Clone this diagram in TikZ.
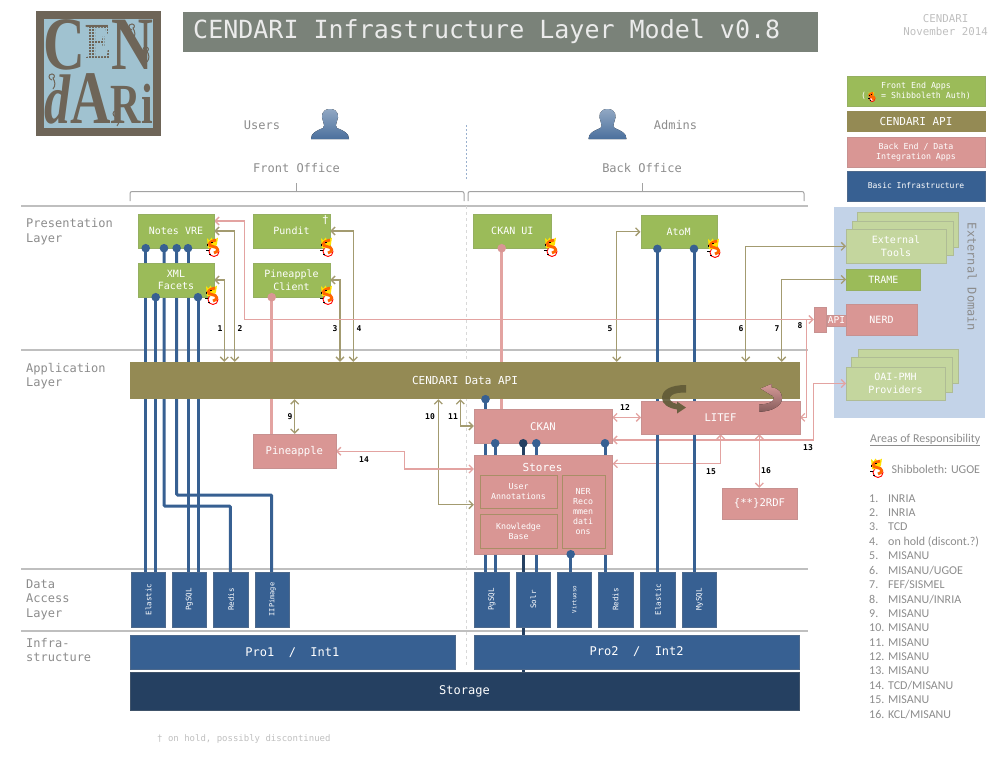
\documentclass[tikz,border=0pt]{standalone}
\usepackage{fontspec}
\usepackage{graphicx}
\setmainfont{DejaVu Sans Mono}
\newfontfamily\notefont{Carlito}
\newfontfamily\logofont{Liberation Serif}
\usetikzlibrary{arrows.meta}
\pgfdeclarelayer{background}
\pgfsetlayers{background,main}
\definecolor{frontgreen}{HTML}{9BBB59}
\definecolor{lightgreen}{HTML}{C4D69E}
\definecolor{apiolive}{HTML}{948A54}
\definecolor{lineolive}{HTML}{A39B70}
\definecolor{backpink}{HTML}{D99694}
\definecolor{linepink}{HTML}{E3A3A1}
\definecolor{infrablue}{HTML}{376092}
\definecolor{darkblue}{HTML}{254061}
\definecolor{titlegrey}{HTML}{7A8279}
\definecolor{textgrey}{HTML}{8C8C8C}
\definecolor{sepgrey}{HTML}{BFBFBF}
\definecolor{domainblue}{HTML}{C3D3E8}
\definecolor{logobrown}{HTML}{6E6558}
\definecolor{logoblue}{HTML}{A0C2D0}
\newcommand{\logosize}[1]{\fontsize{#1}{#1}\selectfont}
\tikzset{
  flat/.style={inner sep=0pt, text=white, align=center, font=\fontsize{10.6}{13}\selectfont},
  greenbox/.style={flat, fill=frontgreen, draw=frontgreen!80!gray, font=\fontsize{10}{12.5}\selectfont},
  pinkbox/.style={flat, fill=backpink, draw=backpink!80!gray},
  innerbox/.style={flat, draw=apiolive!70!backpink, font=\fontsize{8.3}{10}\selectfont},
  bluebox/.style={flat, fill=infrablue, draw=infrablue!70!gray, font=\fontsize{12}{14}\selectfont},
  dbbox/.style={bluebox, minimum width=34.5, minimum height=55},
  dblabel/.style={rotate=90, text=white, inner sep=0pt, font=\fontsize{7.5}{9}\selectfont},
  extbox/.style={flat, fill=lightgreen, draw=lightgreen!70!gray, font=\fontsize{10}{12.5}\selectfont},
  legendbox/.style={minimum width=137.5, font=\fontsize{8.3}{10}\selectfont},
  layerlabel/.style={inner sep=0pt, anchor=north west, align=left, text=textgrey, font=\fontsize{12}{14.4}\selectfont},
  greylabel/.style={inner sep=0pt, text=textgrey, font=\fontsize{12}{14}\selectfont},
  numlabel/.style={inner sep=0pt, font=\fontsize{8}{10}\selectfont\bfseries},
  notelabel/.style={inner sep=0pt, anchor=west, text=textgrey, font=\notefont\fontsize{12}{14}\selectfont},
  logorow/.style={inner sep=0pt, text=logobrown, font=\logofont\bfseries},
  logocurl/.style={logobrown, line width=1},
  sepline/.style={sepgrey, line width=2},
  braceline/.style={sepgrey!85!black, line width=1},
  bluewire/.style={infrablue, line width=3},
  darkwire/.style={darkblue, line width=3},
  pinkwire/.style={linepink, line width=3.5},
  olivearrow/.style={lineolive, line width=1.3, >={Straight Barb[length=4pt,width=8pt]}},
  pinkarrow/.style={linepink, line width=1.3, >={Straight Barb[length=4pt,width=8pt]}},
  person/.pic={
    \fill [top color=infrablue!55!white, bottom color=infrablue!90!white]
      (-19,30) .. controls (-19,24) and (-14,22) .. (-7,19)
      .. controls (-5,18) and (-6,15) .. (-7,12)
      .. controls (-9,8) and (-9,0) .. (0,0)
      .. controls (9,0) and (9,8) .. (7,12)
      .. controls (6,15) and (5,18) .. (7,19)
      .. controls (14,22) and (19,24) .. (19,30) -- cycle;
  },
  shib/.pic={
    \draw [red, fill=white, line width=0.9] (1,4.5) circle (5);
    \fill [yellow!85!orange] (-6,-9) -- (-3.5,-6.5) -- (-1.5,-9.5) -- (0.5,-6.5) -- (5,-9.5)
      -- (4,-3) -- (2,1) -- (-5,1) -- cycle;
    \draw [orange!80!red, line width=2.8] (3,-7) .. controls (-6,-5) and (-5,-1) .. (0,-0.5)
      .. controls (6,0) and (6,5) .. (1,6);
    \fill [black] (-7,3) rectangle (-4,4);
    \fill [black] (-2,-5) rectangle (-0.5,-4);
    \fill [black] (-4,7) rectangle (-2,8);
    \fill [black] (-6,-3) rectangle (-5,-1);
  },
  curl/.pic={
    \draw [logocurl] (0,0) .. controls (-4,-1) and (-4,-6) .. (0,-6)
      .. controls (3,-6) and (3,-2) .. (1,-2) .. controls (3,2) and (4,5) .. (1,9);
  },
}
\begin{document}
\begin{tikzpicture}[x=1pt, y=-1pt]
  \useasboundingbox (0,0) rectangle (1008,756);

  % Columns of the wires
  \coordinate (wirea) at (145.7,0);
  \coordinate (wireb) at (155.7,0);
  \coordinate (wirec) at (164,0);
  \coordinate (wired) at (176.7,0);
  \coordinate (wiree) at (188,0);
  \coordinate (wiref) at (198,0);
  \coordinate (wireg) at (230.3,506);
  \coordinate (wireh) at (271.7,495);
  \coordinate (wirei) at (485.5,0);
  \coordinate (wirej) at (495.2,0);
  \coordinate (wirek) at (523.2,0);
  \coordinate (wirel) at (536.3,0);
  \coordinate (wirem) at (570.7,0);
  \coordinate (wiren) at (605,0);
  \coordinate (wireo) at (657.4,0);
  \coordinate (wirep) at (694,0);
  \coordinate (wireq) at (501.7,0);

  % Columns of the arrows
  \coordinate (arrowa) at (224.3,0);
  \coordinate (arrowb) at (234.7,0);
  \coordinate (arrowc) at (340,0);
  \coordinate (arrowd) at (353.3,0);
  \coordinate (arrowe) at (616.7,0);
  \coordinate (arrowf) at (745.7,0);
  \coordinate (arrowg) at (781.7,0);
  \coordinate (arrowh) at (294.7,0);
  \coordinate (arrowi) at (438.3,504.7);
  \coordinate (arrowj) at (460.3,426);
  \coordinate (arrowk) at (404.3,469);
  \coordinate (arrowl) at (720.7,463.7);
  \coordinate (arrowm) at (759.3,0);
  \coordinate (pinka) at (244.7,221);
  \coordinate (pinkb) at (806.7,0);
  \coordinate (pinkc) at (813.5,440);

  % Drawing the logo
  \fill [logobrown] (36,11) rectangle (161,136);
  \fill [logoblue] (44,19) rectangle (153,128);
  \pic at (132,30) {curl};
  \pic at (146,53) {curl};
  \pic at (52,80) {curl};
  \pic at (116,117) {curl};
  \node [logorow] (logotop) at (98.5,45)
    {\scalebox{1}[1.3]{\logosize{58}C\raisebox{8pt}{\logosize{40}E}\logosize{58}N}};
  \node [logorow] (logobottom) at (98.5,99)
    {\scalebox{1}[1.35]{\logosize{52}\itshape d\upshape\logosize{56}A\logosize{42}R\logosize{42}i}};
  \foreach \gridx in {85,88,...,109}
    \draw [logoblue, line width=0.5] (\gridx,27) -- (\gridx,60);
  \foreach \gridy in {28,31,...,60}
    \draw [logoblue, line width=0.5] (84,\gridy) -- (110,\gridy);

  % Drawing the title
  \fill [titlegrey] (183,12) rectangle (818,52);
  \node [inner sep=0pt, anchor=west, text=white!92!black, font=\fontsize{25}{28}\selectfont] (title) at (193,32)
    {CENDARI Infrastructure Layer Model v0.8};
  \node [inner sep=0pt, align=center, text=sepgrey, font=\fontsize{10.8}{13}\selectfont] (stamp) at (945.5,25)
    {CENDARI\\November 2014};

  % Drawing users and admins
  \node [greylabel] (users) at (262,125) {Users};
  \node [greylabel] (admins) at (675.5,125) {Admins};
  \pic at (330,109) {person};
  \pic at (607.5,109) {person};
  \node [greylabel] (frontoffice) at (296.5,168) {Front Office};
  \node [greylabel] (backoffice) at (642,168) {Back Office};
  \draw [braceline, rounded corners=2] (130,201) -- (130,191.5) -- (464,191.5) -- (464,201);
  \draw [braceline] (296.7,183) -- (296.7,191.5);
  \draw [braceline, rounded corners=2] (468,201) -- (468,191.5) -- (804,191.5) -- (804,201);
  \draw [braceline] (642,183) -- (642,191.5);

  % Drawing the layer names
  \node [layerlabel] (presentation) at (26,218.5) {Presentation\\Layer};
  \node [layerlabel] (application) at (26,363) {Application\\Layer};
  \node [layerlabel] (dataaccess) at (26,579.5) {Data\\Access\\Layer};
  \node [layerlabel] (infra) at (26,638) {Infra-\\structure};

  % Drawing the legend
  \node [greenbox, legendbox, minimum height=29.5] (legendfront) at (916,91)
    {Front End Apps\\(~~~= Shibboleth Auth)};
  \node [flat, legendbox, fill=apiolive, draw=apiolive, minimum height=20.5, font=\fontsize{11}{13}\selectfont] (legendapi) at (916,121.3) {CENDARI API};
  \node [pinkbox, legendbox, minimum height=29.5] (legendback) at (916,152) {Back End / Data\\Integration Apps};
  \node [bluebox, legendbox, minimum height=29.5, font=\fontsize{8}{10}\selectfont] (legendbasic) at (916,186) {Basic Infrastructure};
  \pic [scale=0.5] at (871.7,96.7) {shib};

  % Drawing the external domain
  \node [inner sep=0pt, rotate=-90, text=textgrey, font=\fontsize{12}{14}\selectfont] (external) at (972,277) {External Domain};
  \node [extbox, minimum width=100.4, minimum height=34.4] (toolsc) at (907.5,229.5) {};
  \node [extbox, minimum width=100.4, minimum height=34] (toolsb) at (902.5,237.7) {};
  \node [extbox, minimum width=99.4, minimum height=34] (tools) at (896,246.3) {External\\Tools};
  \node [greenbox, minimum width=74, minimum height=20.4] (trame) at (883.3,279.5) {TRAME};
  \node [pinkbox, minimum width=70.4, minimum height=30.4, font=\fontsize{10}{12}\selectfont] (nerd) at (881.5,319.5) {NERD};
  \node [pinkbox, minimum width=19.6, minimum height=11, font=\fontsize{9.5}{11}\selectfont] (nerdapi) at (836.5,320.2) {API};
  \node [pinkbox, minimum width=12.7, minimum height=24.4] (apistub) at (820.3,319.5) {};
  \node [extbox, minimum width=100, minimum height=34] (oaic) at (907.7,365.7) {};
  \node [extbox, minimum width=100.4, minimum height=34.4] (oaib) at (901.5,374.5) {};
  \node [extbox, minimum width=98.4, minimum height=33.6] (oai) at (895.5,383.5) {OAI-PMH\\Providers};

  % Drawing the front end boxes
  \node [greenbox, minimum width=76, minimum height=34] (notes) at (176,231) {Notes VRE};
  \node [greenbox, minimum width=76, minimum height=34] (xml) at (176,280) {XML\\Facets};
  \node [greenbox, minimum width=77, minimum height=34] (pundit) at (291.5,231) {Pundit};
  \node [inner sep=0pt, text=white, font=\fontsize{11}{13}\selectfont] (dagger) at (325.5,220) {†};
  \node [greenbox, minimum width=77, minimum height=34] (client) at (291.5,280) {Pineapple\\Client};
  \node [greenbox, minimum width=78.7, minimum height=34] (ckanui) at (512.3,231) {CKAN UI};
  \node [greenbox, minimum width=76, minimum height=33.7] (atom) at (678.7,231.8) {AtoM};

  % Drawing the application layer
  \node [flat, fill=apiolive, minimum width=670, minimum height=37, font=\fontsize{11}{13}\selectfont] (api) at (465,380.5) {CENDARI Data API};
  \node [pinkbox, minimum width=82.7, minimum height=34.3] (pineapple) at (294.4,451.2) {Pineapple};
  \node [pinkbox, minimum width=138, minimum height=33.7] (ckan) at (543,426.2) {CKAN};
  \node [pinkbox, minimum width=158.4, minimum height=33.3] (litef) at (720.5,417.4) {LITEF};
  \node [pinkbox, minimum width=75.6, minimum height=30.7] (rdf) at (759.5,503.4) {\{**\}2RDF};
  \node [pinkbox, minimum width=138.3, minimum height=98.7] (stores) at (543.2,504.7) {};
  \node [inner sep=0pt, text=white, font=\fontsize{11}{13}\selectfont] (storeslabel) at (542.5,467) {Stores};
  \node [innerbox, minimum width=76.4, minimum height=33.6] (annotations) at (518.5,491.5) {User\\Annotations};
  \node [innerbox, minimum width=76.4, minimum height=34] (knowledge) at (518.5,531.3) {Knowledge\\Base};
  \node [innerbox, minimum width=43, minimum height=73.6] (recommend) at (583.2,511.5) {NER\\Reco\\mmen\\dati\\ons};

  % Drawing the data access layer
  \node [dbbox] (elastica) at (148,599.5) {};
  \node [dblabel] (elasticalabel) at (148.5,599.5) {Elastic};
  \node [dbbox] (pgsqla) at (189.3,599.5) {};
  \node [dblabel] (pgsqlalabel) at (189.3,599.5) {PgSQL};
  \node [dbbox] (redisa) at (230.8,599.5) {};
  \node [dblabel] (redisalabel) at (231,599.5) {Redis};
  \node [dbbox] (iip) at (272.3,599.5) {};
  \node [dblabel, font=\fontsize{7}{9}\selectfont] (iiplabel) at (272.5,599.5) {IIPimage};
  \node [dbbox] (pgsqlb) at (491.6,599.5) {};
  \node [dblabel] (pgsqlblabel) at (492,599.5) {PgSQL};
  \node [dbbox] (solr) at (533,599.5) {};
  \node [dblabel] (solrlabel) at (533.3,599.5) {Solr};
  \node [dbbox] (virtuoso) at (574.3,599.5) {};
  \node [dblabel, font=\fontsize{5.8}{7}\selectfont] (virtuosolabel) at (574.3,599.5) {Virtuoso};
  \node [dbbox] (redisb) at (615.5,599.5) {};
  \node [dblabel] (redisblabel) at (615.5,599.5) {Redis};
  \node [dbbox] (elasticb) at (657.8,599.5) {};
  \node [dblabel] (elasticblabel) at (658,599.5) {Elastic};
  \node [dbbox] (mysql) at (699.2,599.5) {};
  \node [dblabel] (mysqllabel) at (699.5,599.5) {MySQL};

  % Drawing the infrastructure
  \node [bluebox, minimum width=324.7, minimum height=34] (proa) at (292.4,652.3) {Pro1~~/~~Int1};
  \node [bluebox, minimum width=324.7, minimum height=34] (prob) at (636.7,652) {Pro2~~/~~Int2};
  \node [bluebox, fill=darkblue, draw=darkblue!70!gray, minimum width=669, minimum height=37.4] (storage) at (464.5,691) {Storage};

  % Drawing everything that runs behind the boxes
  \begin{pgfonlayer}{background}
    \fill [domainblue] (834.3,207.3) rectangle (985,417.7);
    \draw [sepline] (21,206) -- (808,206);
    \draw [sepline] (21,350) -- (808,350);
    \draw [sepline] (21,568.7) -- (808,568.7);
    \draw [sepline] (21,630.7) -- (808,630.7);
    \draw [domainblue!70!infrablue, line width=1, dash pattern=on 2pt off 2pt] (466,125) -- (466,180);
    \draw [sepgrey!60!white, line width=1, dash pattern=on 3pt off 3pt] (466,206) -- (466,667);

    % Arrows to the front end
    \draw [olivearrow, <->] (arrowa |- api.north) |- (xml.east);
    \draw [olivearrow, <->] (arrowb |- api.north) |- (notes.east);
    \draw [olivearrow, <->] (arrowc |- api.north) |- (client.east);
    \draw [olivearrow, <->] (arrowd |- api.north) |- (pundit.east);
    \draw [olivearrow, <->] (arrowe |- api.north) |- (atom.west);
    \draw [olivearrow, <->] (arrowf |- api.north) |- (tools.west);
    \draw [olivearrow, <->] (arrowg |- api.north) |- (trame.west);
    \draw [pinkarrow, <->] (notes.east |- pinka) -- (pinka) |- (apistub.west);
    \draw [pinkarrow, ->] (pinkb |- apistub.west) |- (litef.east);
    \draw [pinkarrow, <->] (oai.west) -| (pinkc) -- (ckan.east |- pinkc);

    % Arrows below the data api
    \draw [olivearrow, <->] (arrowh |- api.south) -- (arrowh |- pineapple.north);
    \draw [olivearrow, <->] (arrowi |- api.south) -- (arrowi) -- (stores.west |- arrowi);
    \draw [olivearrow, <->] (arrowj |- api.south) -- (arrowj) -- (ckan.west |- arrowj);
    \draw [pinkarrow, <->] (pineapple.east) -| (arrowk) -- (stores.west |- arrowk);
    \draw [pinkarrow, <->] (ckan.east |- litef.east) -- (litef.west);
    \draw [pinkarrow, <->] (stores.east |- arrowl) -- (arrowl) -- (arrowl |- litef.south);
    \draw [pinkarrow, <->] (arrowm |- litef.south) -- (arrowm |- rdf.north);

    % Pink wires
    \draw [pinkwire] (wireh |- client.south) -- (wireh |- pineapple.north);
    \draw [pinkwire] (wireq |- ckanui.south) -- (wireq |- ckan.north);

    % Blue wires
    \draw [bluewire] (wirea |- notes.south) -- (wirea |- elastica.north);
    \draw [bluewire] (wireb |- xml.south) -- (wireb |- elastica.north);
    \draw [bluewire, rounded corners=1] (wirec |- notes.south) |- (wireg) -- (wireg |- redisa.north);
    \draw [bluewire, rounded corners=1] (wired |- notes.south) |- (wireh) -- (wireh |- iip.north);
    \draw [bluewire] (wiree |- notes.south) -- (wiree |- pgsqla.north);
    \draw [bluewire] (wiref |- xml.south) -- (wiref |- pgsqla.north);
    \draw [bluewire] (wirei |- api.south) -- (wirei |- pgsqlb.north);
    \draw [bluewire] (wirej |- ckan.south) -- (wirej |- pgsqlb.north);
    \draw [darkwire] (wirek |- ckan.south) -- (wirek |- storage.north);
    \draw [bluewire] (wirel |- ckan.south) -- (wirel |- solr.north);
    \draw [bluewire] (wirem |- stores.south) -- (wirem |- virtuoso.north);
    \draw [bluewire] (wiren |- ckan.south) -- (wiren |- redisb.north);
    \draw [bluewire] (wireo |- atom.south) -- (wireo |- elasticb.north);
    \draw [bluewire] (wirep |- atom.south) -- (wirep |- mysql.north);
  \end{pgfonlayer}

  % Marking the wire ends by circles
  \foreach \wire/\target in {wirea/notes, wirec/notes, wired/notes, wiree/notes, wireb/xml, wiref/xml,
                          wirej/ckan, wirel/ckan, wiren/ckan, wirem/stores, wireo/atom, wirep/atom}
    \fill [infrablue] (\wire |- \target.south) circle (4.3);
  \fill [infrablue] (wirei |- api.south) circle (4.3);
  \fill [darkblue] (wirek |- ckan.south) circle (4.3);
  \fill [backpink] (wireh |- client.south) circle (4.3);
  \fill [backpink] (wireq |- ckanui.south) circle (4.3);

  % Drawing the turning arrows on litef
  \fill [apiolive!65!black, opacity=0.9]
    (686,385) .. controls (670,385) and (662,390) .. (662,398)
    .. controls (662,404) and (668,408) .. (677,409.5)
    -- (677,413.5) -- (686,407.5) -- (677,401.5) -- (677,404)
    .. controls (671,403) and (667,398) .. (672,395)
    .. controls (675,393) and (680,392.5) .. (686,392.5) -- cycle;
  \fill [top color=linepink, bottom color=backpink!65!black, opacity=0.95]
    (759.3,404.5) .. controls (772,404) and (776,400) .. (773,396)
    .. controls (772,395) and (771,394.5) .. (770,394.5)
    -- (770,394.5) -- (760.5,388.5) -- (771.5,384) -- (771.5,387.5)
    .. controls (779,388) and (782,393) .. (782,398)
    .. controls (782,406) and (772,411.5) .. (759.3,411.7) -- cycle;

  % Numbering the arrows
  \node [numlabel] (numa) at (220,329) {1};
  \node [numlabel] (numb) at (240,329) {2};
  \node [numlabel] (numc) at (335,329) {3};
  \node [numlabel] (numd) at (359,329) {4};
  \node [numlabel] (nume) at (610,329) {5};
  \node [numlabel] (numf) at (741,329) {6};
  \node [numlabel] (numg) at (777,329) {7};
  \node [numlabel] (numh) at (800,326) {8};
  \node [numlabel] (numi) at (290,417) {9};
  \node [numlabel] (numj) at (430,417) {10};
  \node [numlabel] (numk) at (453,417) {11};
  \node [numlabel] (numl) at (625,408) {12};
  \node [numlabel] (numm) at (808,448) {13};
  \node [numlabel] (numn) at (364,460) {14};
  \node [numlabel] (numo) at (711,472) {15};
  \node [numlabel] (nump) at (766,471) {16};

  % Marking the shibboleth apps
  \foreach \px/\py in {213/247, 212/295, 327/247, 327/295, 551/247, 714/248, 877/468}
    \pic at (\px,\py) {shib};

  % Listing the areas of responsibility
  \node [notelabel] (areas) at (870,440) {\underline{Areas of Responsibility}};
  \node [notelabel] (shiblabel) at (891.5,469) {Shibboleth: UGOE};
  \foreach \num/\who [count=\row from 0] in {1./INRIA, 2./INRIA, 3./TCD, 4./on hold (discont.?), 5./MISANU,
      6./MISANU\slash UGOE, 7./FEF\slash SISMEL, 8./MISANU\slash INRIA, 9./MISANU, 10./MISANU, 11./MISANU,
      12./MISANU, 13./MISANU, 14./TCD\slash MISANU, 15./MISANU, 16./KCL\slash MISANU}
  {
    \node [notelabel] (num\row) at (869,498.3+14.4*\row) {\num};
    \node [notelabel] (who\row) at (888,498.3+14.4*\row) {\who};
  }

  % Footnote
  \node [inner sep=0pt, anchor=west, text=sepgrey, font=\fontsize{9}{11}\selectfont] (footnote) at (157,739)
    {† on hold, possibly discontinued};
\end{tikzpicture}
\end{document}
